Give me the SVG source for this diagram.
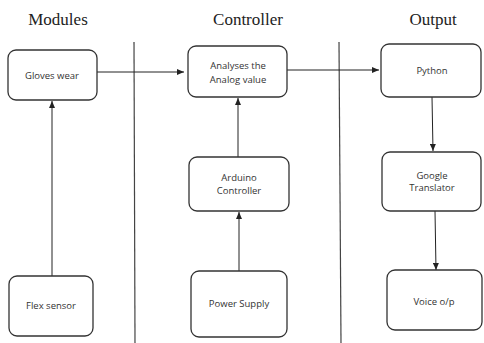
<svg xmlns="http://www.w3.org/2000/svg" width="484" height="343" viewBox="0 0 484 343">
<defs>
<marker id="ah" markerWidth="8" markerHeight="6" refX="7" refY="3" orient="auto" markerUnits="userSpaceOnUse">
<path d="M0,0 L7,3 L0,6 Z" fill="#222"/>
</marker>
<style>
.box{fill:#fff;stroke:#333;stroke-width:1.3}
.t{font-family:"Open Sans","Liberation Sans",sans-serif;font-size:9.5px;fill:#333;text-anchor:middle}
.h{font-family:"Liberation Serif",serif;font-size:17px;fill:#222;text-anchor:middle}
.c{stroke:#222;stroke-width:1;fill:none;marker-end:url(#ah)}
.sep{stroke:#444;stroke-width:1.2}
</style>
</defs>
<rect width="484" height="343" fill="#fff"/>
<g id="headers">
<text class="h" x="58" y="25">Modules</text>
<text class="h" x="248" y="25">Controller</text>
<text class="h" x="433" y="25">Output</text>
</g>
<g id="separators">
<line class="sep" x1="134" y1="42" x2="135" y2="343"/>
<line class="sep" x1="339" y1="42" x2="341" y2="343"/>
</g>
<g id="connectors">
<line class="c" x1="97" y1="72" x2="184" y2="72"/>
<line class="c" x1="282" y1="70" x2="379" y2="70"/>
<line class="c" x1="52" y1="276" x2="52" y2="101"/>
<line class="c" x1="238" y1="157" x2="238" y2="98"/>
<line class="c" x1="239" y1="271" x2="239" y2="212"/>
<line class="c" x1="432" y1="97" x2="433" y2="151"/>
<line class="c" x1="435" y1="211" x2="436" y2="270"/>
</g>
<g id="gloves">
<rect class="box" x="8" y="50" width="89" height="50" rx="8"/>
<text class="t" x="52" y="79">Gloves wear</text>
</g>
<g id="analyses">
<rect class="box" x="188" y="46" width="99" height="51" rx="8"/>
<text class="t" x="238" y="69">Analyses the</text>
<text class="t" x="238" y="83">Analog value</text>
</g>
<g id="python">
<rect class="box" x="381" y="44" width="100" height="53" rx="8"/>
<text class="t" x="432" y="74">Python</text>
</g>
<g id="flex">
<rect class="box" x="9" y="276" width="84" height="60" rx="8"/>
<text class="t" x="51" y="309">Flex sensor</text>
</g>
<g id="arduino">
<rect class="box" x="189" y="157" width="100" height="54" rx="8"/>
<text class="t" x="239" y="181">Arduino</text>
<text class="t" x="239" y="194">Controller</text>
</g>
<g id="power">
<rect class="box" x="191" y="271" width="96" height="66" rx="8"/>
<text class="t" x="239" y="307">Power Supply</text>
</g>
<g id="google">
<rect class="box" x="382" y="152" width="99" height="59" rx="8"/>
<text class="t" x="432" y="179">Google</text>
<text class="t" x="432" y="191">Translator</text>
</g>
<g id="voice">
<rect class="box" x="387" y="270" width="95" height="60" rx="8"/>
<text class="t" x="434" y="305">Voice o/p</text>
</g>
</svg>
